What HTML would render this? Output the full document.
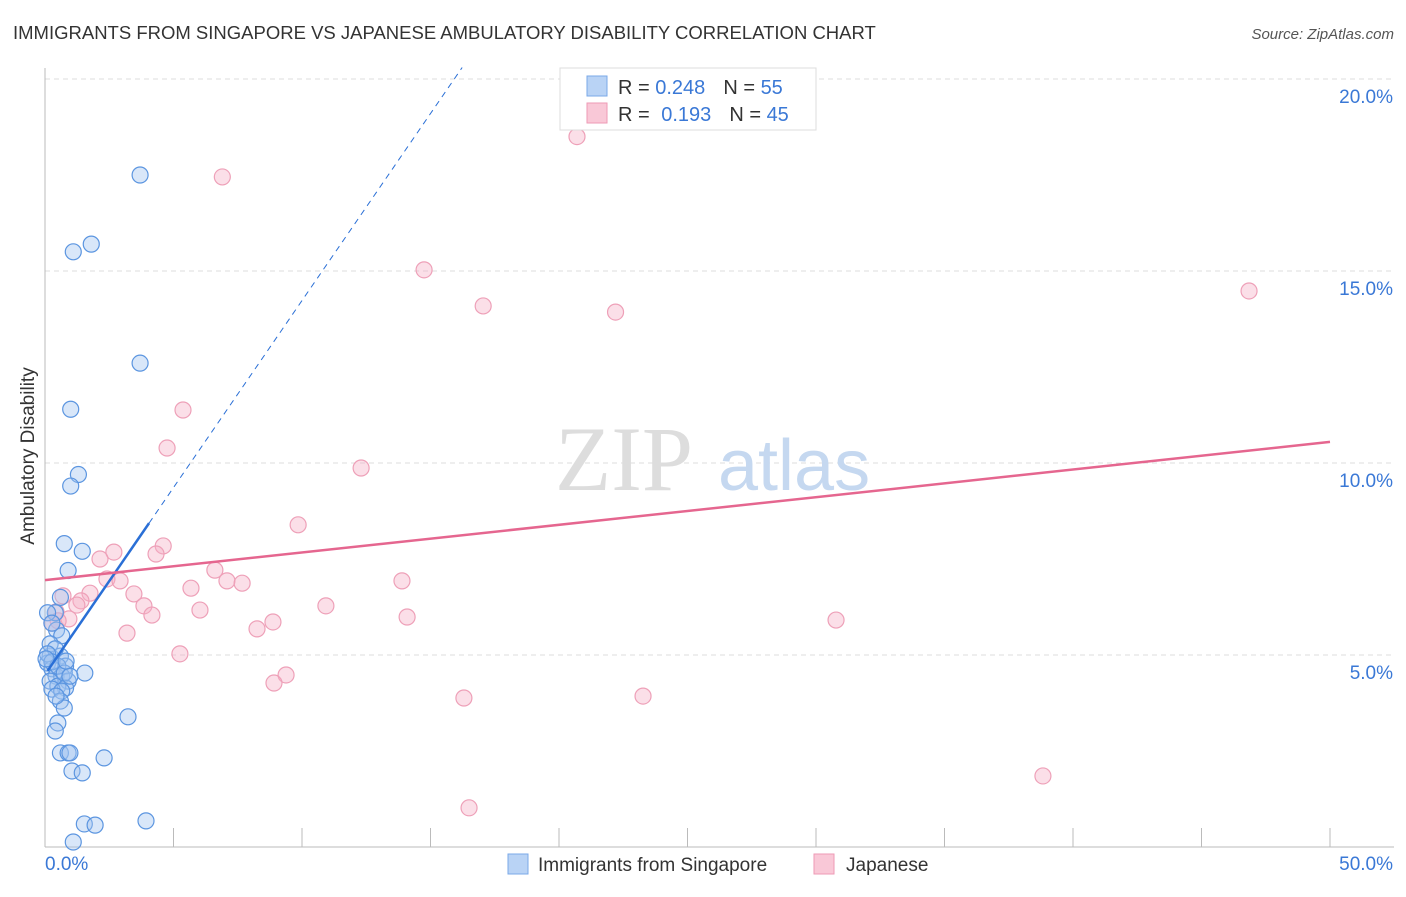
<!DOCTYPE html>
<html><head><meta charset="utf-8"><style>
html,body{margin:0;padding:0;background:#fff;}
body{width:1406px;height:892px;overflow:hidden;font-family:"Liberation Sans",sans-serif;}
</style></head><body>
<svg id="chart" width="1406" height="892" xmlns="http://www.w3.org/2000/svg" font-family="Liberation Sans, sans-serif">
<text x="13" y="39" font-size="18.5" fill="#333">IMMIGRANTS FROM SINGAPORE VS JAPANESE AMBULATORY DISABILITY CORRELATION CHART</text>
<text x="1394" y="39" font-size="15" fill="#555" font-style="italic" text-anchor="end">Source: ZipAtlas.com</text>
<text transform="translate(34,456) rotate(-90)" font-size="19" fill="#333" text-anchor="middle">Ambulatory Disability</text>
<g id="grid"></g>
<g><text x="555" y="490" font-size="92" fill="#ddd" font-family="Liberation Serif, serif">ZIP</text><text x="718" y="490" font-size="72" fill="#c5d8f0">atlas</text></g>
<g id="axes"></g>
<g id="pinkpts"></g>
<g id="bluepts"></g>
<g id="lines"></g>
<g>
<rect x="560" y="68" width="256" height="62" fill="#fff" stroke="#ddd"/>
<rect x="587" y="76" width="20" height="20" fill="#b9d3f5" stroke="#7aa8e8"/>
<rect x="587" y="103" width="20" height="20" fill="#f9c8d7" stroke="#ee9ab5"/>
<text x="618" y="94" font-size="20" fill="#333">R = <tspan fill="#3a78d6">0.248</tspan><tspan dx="18">N = </tspan><tspan fill="#3a78d6">55</tspan></text>
<text x="618" y="121" font-size="20" fill="#333">R = <tspan fill="#3a78d6" dx="6">0.193</tspan><tspan dx="18">N = </tspan><tspan fill="#3a78d6">45</tspan></text>
</g>
<g>
<rect x="508" y="854" width="20" height="20" fill="#b9d3f5" stroke="#7aa8e8"/>
<text x="538" y="871" font-size="19" fill="#333">Immigrants from Singapore</text>
<rect x="814" y="854" width="20" height="20" fill="#f9c8d7" stroke="#ee9ab5"/>
<text x="846" y="871" font-size="19" fill="#333">Japanese</text>
</g>
</svg>
<script>
const yTicks=[5,10,15,20];
const yTickLabels=["5.0%","10.0%","15.0%","20.0%"];
const xTickLabels=["0.0%","50.0%"];
const blueX=[3.7,1.8,1.1,3.7,1.0,1.3,1.0,0.75,1.45,0.9,0.6,0.4,0.45,0.65,0.2,0.6,0.1,0.8,0.27,1.55,0.43,0.65,0.2,0.9,0.5,0.8,0.27,0.65,0.6,0.75,0.5,3.23,0.4,0.6,0.9,0.97,2.3,1.05,1.45,1.53,1.95,3.93,1.1,0.1,0.27,0.2,0.4,0.1,0.27,0.5,0.75,0.97,0.04,0.43,0.82];
const blueY=[17.5,15.7,15.5,12.6,11.4,9.7,9.4,7.9,7.7,7.2,6.5,6.1,5.65,5.5,4.97,4.97,4.79,4.71,4.64,4.53,4.45,4.45,4.32,4.32,4.19,4.14,4.11,4.06,3.8,3.62,3.23,3.39,3.02,2.45,2.45,2.45,2.32,1.98,1.93,0.6,0.57,0.68,0.13,6.1,5.83,5.29,5.16,5.03,4.82,4.71,4.53,4.45,4.9,3.93,4.84];
const pinkX=[20.7,6.9,14.75,17.05,22.2,46.85,5.37,4.75,12.3,9.85,4.6,2.68,4.32,2.14,6.61,2.41,2.92,7.08,7.67,13.89,5.68,1.75,3.46,0.7,1.4,1.24,3.85,6.03,0.43,10.93,4.16,0.93,14.09,0.51,0.27,30.78,8.87,8.25,3.19,5.25,9.38,8.91,16.3,23.27,38.83,16.5];
const pinkY=[18.5,17.45,15.03,14.09,13.93,14.48,11.38,10.39,9.87,8.39,7.84,7.68,7.63,7.5,7.21,6.98,6.93,6.93,6.87,6.93,6.74,6.61,6.59,6.54,6.41,6.3,6.28,6.17,6.12,6.28,6.04,5.94,5.99,5.89,5.83,5.91,5.86,5.68,5.57,5.03,4.48,4.27,3.88,3.93,1.85,1.02];
const blueFit=[4.49,0.974];
const pinkFit=[6.95,0.072];
const X=v=>45+v*25.7, Y=v=>847-v*38.4;
const NS="http://www.w3.org/2000/svg";
function mk(parent,tag,attrs){const e=document.createElementNS(NS,tag);for(const k in attrs)e.setAttribute(k,attrs[k]);document.getElementById(parent).appendChild(e);return e;}
yTicks.forEach((t,i)=>{
 const l=mk('grid','line',{x1:45,x2:1394,y1:Y(t),y2:Y(t),stroke:'#ddd','stroke-dasharray':'5,4'});
 
 
 const tx=mk('axes','text',{x:1393,y:Y(t)+24,'font-size':19,fill:'#3a78d6','text-anchor':'end'});
 tx.textContent=yTickLabels[i];
 
 
});
mk('axes','line',{x1:45,x2:45,y1:68,y2:847,stroke:'#bbb'});
mk('axes','line',{x1:45,x2:1394,y1:847,y2:847,stroke:'#bbb'});
for(let i=1;i<=10;i++){const x=45+i*128.5;mk('axes','line',{x1:x,x2:x,y1:828,y2:847,stroke:'#bbb'});}
xTickLabels.forEach((s,i)=>{
 const tx=mk('axes','text',{x:i?1393:45,y:870,'font-size':19,fill:'#3a78d6','text-anchor':i?'end':'start'});
 tx.textContent=s;
 
 
});
pinkX.forEach((v,i)=>{
 const c=mk('pinkpts','circle',{cx:X(v),cy:Y(pinkY[i]),r:8,fill:'rgba(246,176,198,0.4)',stroke:'#eea0b8','stroke-width':1.2});
 
 
});
blueX.forEach((v,i)=>{
 const c=mk('bluepts','circle',{cx:X(v),cy:Y(blueY[i]),r:8,fill:'rgba(160,195,240,0.4)',stroke:'#5b95e0','stroke-width':1.2});
 
 
});
const bl=mk('lines','line',{x1:X(0.1),y1:Y(blueFit[0]+blueFit[1]*0.1),x2:X(4.05),y2:Y(blueFit[0]+blueFit[1]*4.05),stroke:'#2a6fd6','stroke-width':2.5});


const xe=(20.3-blueFit[0])/blueFit[1];
const bd=mk('lines','line',{x1:X(4.05),y1:Y(blueFit[0]+blueFit[1]*4.05),x2:X(xe),y2:Y(blueFit[0]+blueFit[1]*xe),stroke:'#2a6fd6','stroke-width':1,'stroke-dasharray':'6,5'});


const pl=mk('lines','line',{x1:X(0),y1:Y(pinkFit[0]),x2:X(50),y2:Y(pinkFit[0]+pinkFit[1]*50),stroke:'#e5668f','stroke-width':2.5});


</script>
</body></html>
